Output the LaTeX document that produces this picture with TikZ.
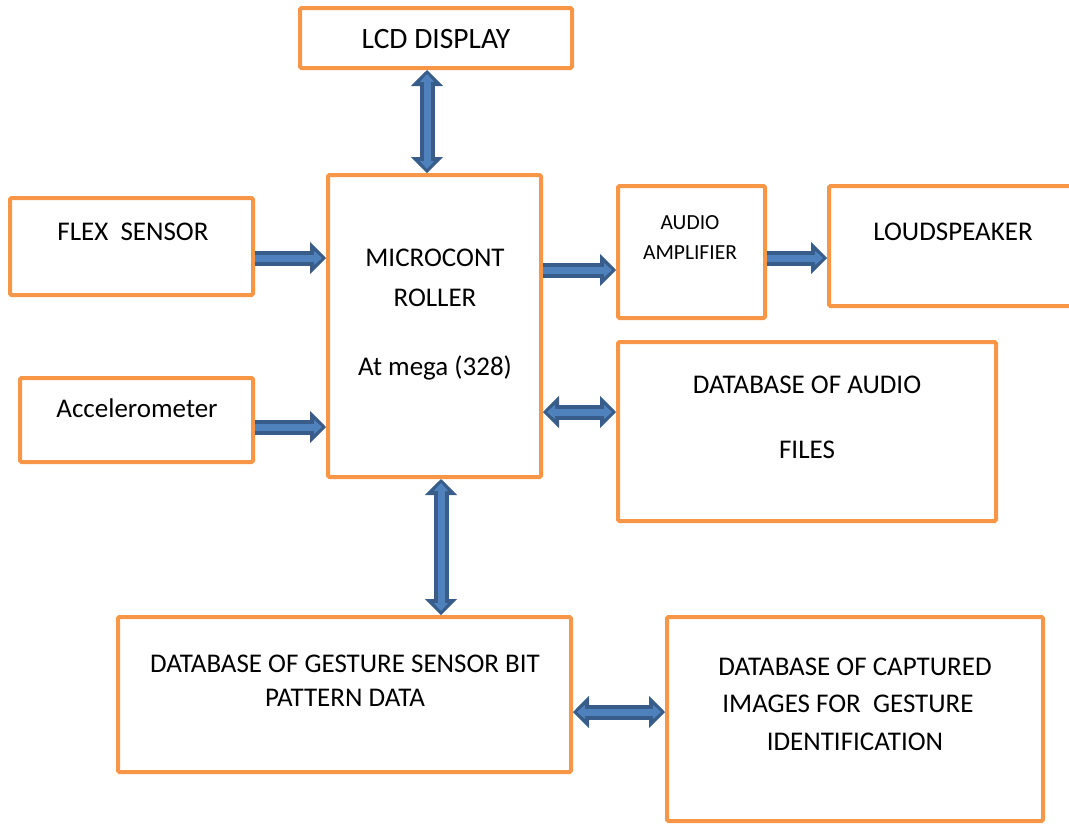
\documentclass[tikz,border=0pt]{standalone}
\usepackage{fontspec}
\setmainfont{Carlito}
\usetikzlibrary{arrows.meta}
\definecolor{boxColor}{RGB}{247,150,70}
\definecolor{arrowEdge}{RGB}{56,93,138}
\definecolor{arrowFill}{RGB}{79,129,189}
\tikzstyle{diagram} = [x = 1pt, y = -1pt]
\tikzstyle{blockStyle} = [draw=boxColor, line width=4pt, rounded corners=1.5pt, inner sep=0pt]
\tikzstyle{blockText} = [font=\fontsize{27}{31}\selectfont, inner sep=0pt]
\tikzstyle{bigText} = [font=\fontsize{29.5}{33}\selectfont, inner sep=0pt]
\tikzstyle{smallText} = [font=\fontsize{21.5}{24}\selectfont, inner sep=0pt]
\tikzstyle{arrowBody} = [draw=arrowEdge, line width=15pt]
\tikzstyle{arrowShine} = [draw=arrowFill, line width=7pt]
\tikzstyle{oneWayOuter} = [-{Triangle[width=32pt, length=16pt, line width=1pt]}]
\tikzstyle{oneWayInner} = [-{Triangle[width=14pt, length=8pt, line width=1pt]}]
\tikzstyle{twoWayOuter} = [{Triangle[width=32pt, length=16pt, line width=1pt]}-{Triangle[width=32pt, length=16pt, line width=1pt]}]
\tikzstyle{twoWayInner} = [{Triangle[width=14pt, length=8pt, line width=1pt]}-{Triangle[width=14pt, length=8pt, line width=1pt]}]
\newcommand{\blockBox}[5]{\node [blockStyle, minimum width={(#4 - #2)*1pt}, minimum height={(#5 - #3)*1pt}] (#1) at ({(#2 + #4)/2}, {(#3 + #5)/2}) {};}
\newcommand{\singleArrow}[2]{
  \draw [arrowBody, oneWayOuter] #1 -- #2;
  \draw [arrowShine, oneWayInner, shorten >=4pt] #1 -- #2;
}
\newcommand{\doubleArrow}[2]{
  \draw [arrowBody, twoWayOuter] #1 -- #2;
  \draw [arrowShine, twoWayInner, shorten >=4pt, shorten <=4pt] #1 -- #2;
}
\begin{document}
\begin{tikzpicture}[diagram]
        \useasboundingbox (0,0) rectangle (1069,823);
        \blockBox{lcd}{300}{8}{572}{68}
        \blockBox{flex}{10}{198}{253}{295}
        \blockBox{accel}{20}{378}{253}{462}
        \blockBox{micro}{328}{175}{541}{477}
        \blockBox{amp}{618}{186}{765}{318}
        \blockBox{loud}{829}{186}{1085}{306}
        \blockBox{dbAudio}{618}{342}{996}{521}
        \blockBox{gesture}{118}{617}{571}{772}
        \blockBox{captured}{667}{617}{1043}{821}

        \node [bigText] (lcdLabel) at (436,39) {LCD DISPLAY};
        \node [blockText] (flexLabel) at (133,232) {FLEX\ \ SENSOR};
        \node [blockText] (accelLabel) at (137,408) {Accelerometer};
        \node [blockText] (microLabelA) at (435,258) {MICROCONT};
        \node [blockText] (microLabelB) at (435,298) {ROLLER};
        \node [blockText] (microLabelC) at (435,368) {At mega (328)};
        \node [smallText] (ampLabelA) at (690,223) {AUDIO};
        \node [smallText] (ampLabelB) at (690,253) {AMPLIFIER};
        \node [blockText] (loudLabel) at (953,232) {LOUDSPEAKER};
        \node [blockText] (dbAudioLabelA) at (807,385) {DATABASE OF AUDIO};
        \node [blockText] (dbAudioLabelB) at (807,450) {FILES};
        \node [blockText] (gestureLabelA) at (345,664) {DATABASE OF GESTURE SENSOR BIT};
        \node [blockText] (gestureLabelB) at (345,698) {PATTERN DATA};
        \node [blockText] (capturedLabelA) at (855,667) {DATABASE OF CAPTURED};
        \node [blockText] (capturedLabelB) at (848,704) {IMAGES FOR\ \ GESTURE};
        \node [blockText] (capturedLabelC) at (855,742) {IDENTIFICATION};

        \doubleArrow{([xshift=-9pt]lcd.south)}{([xshift=-9pt]lcd.south |- micro.north)}
        \singleArrow{([yshift=-11.5pt]flex.east)}{([yshift=-11.5pt]flex.east -| micro.west)}
        \singleArrow{([yshift=-7pt]accel.east)}{([yshift=-7pt]accel.east -| micro.west)}
        \singleArrow{([yshift=-18pt]amp.west -| micro.east)}{([yshift=-18pt]amp.west)}
        \singleArrow{([yshift=-6pt]amp.east)}{([yshift=-6pt]amp.east -| loud.west)}
        \doubleArrow{([yshift=19.5pt]dbAudio.west -| micro.east)}{([yshift=19.5pt]dbAudio.west)}
        \doubleArrow{([xshift=6.5pt]micro.south)}{([xshift=6.5pt]micro.south |- gesture.north)}
        \doubleArrow{([yshift=-17.5pt]gesture.east)}{([yshift=-17.5pt]gesture.east -| captured.west)}
\end{tikzpicture}
\end{document}
